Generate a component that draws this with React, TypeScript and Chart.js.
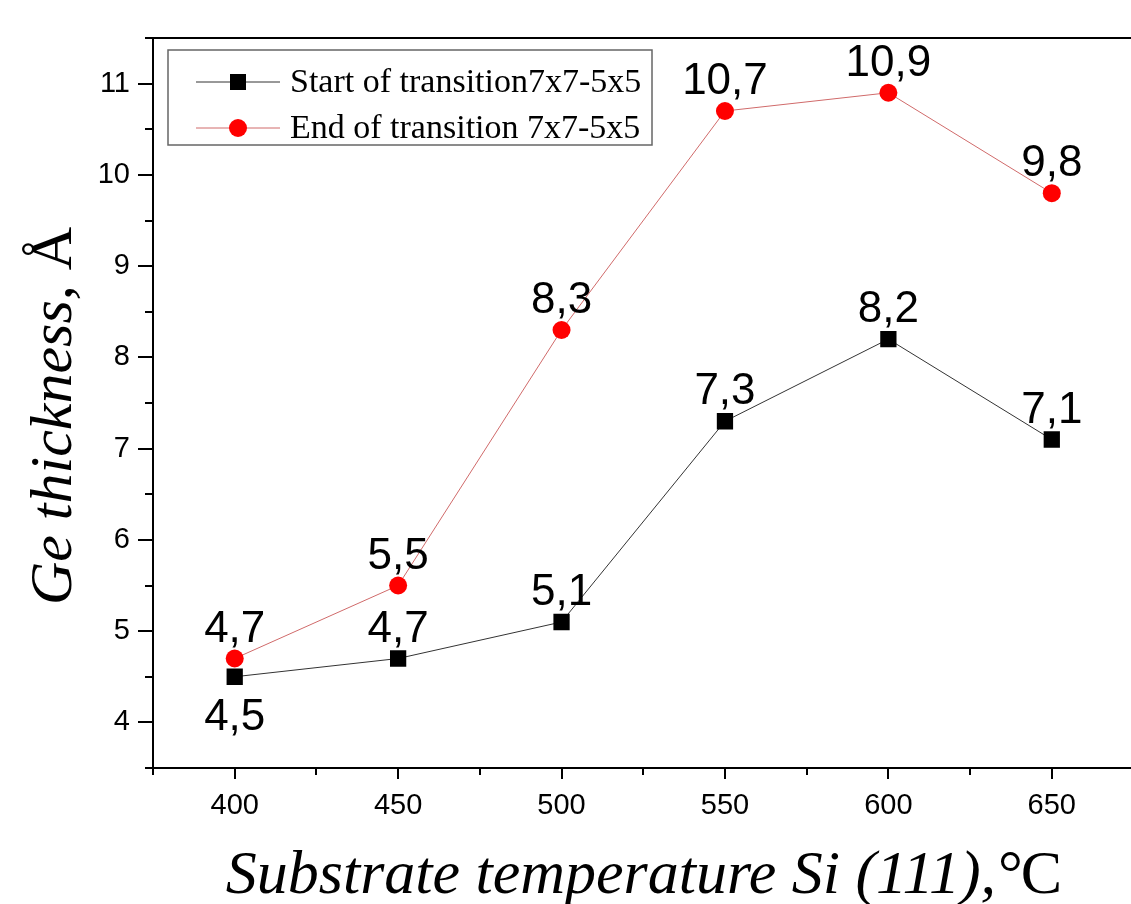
import React, { useEffect, useRef } from "react";
import { Chart, registerables } from "chart.js";

Chart.register(...registerables);

const temperatures = [400, 450, 500, 550, 600, 650];
const startValues = [4.5, 4.7, 5.1, 7.3, 8.2, 7.1];
const endValues = [4.7, 5.5, 8.3, 10.7, 10.9, 9.8];
const seriesNames = ["Start of transition7x7-5x5", "End of transition 7x7-5x5"];
const xTicks = [400, 450, 500, 550, 600, 650];
const yTicks = [4, 5, 6, 7, 8, 9, 10, 11];
const xTitle = "Substrate temperature Si (111),°";
const xTitleUnit = "C";
const yTitle = "Ge thickness, ";
const yTitleUnit = "Å";

const SANS = 'Arial, "Liberation Sans", sans-serif';
const SERIF = '"Times New Roman", "Liberation Serif", serif';

const fmt = (v: number) => Number(v).toFixed(1).replace(".", ",");

const decorPlugin = {
  id: "decor",
  afterDraw(chart: any) {
    const ctx = chart.ctx;
    const xs = chart.scales.x;
    const ys = chart.scales.y;
    const area = chart.chartArea;
    ctx.save();
    // top border
    ctx.strokeStyle = "#000";
    ctx.lineWidth = 2;
    ctx.beginPath();
    ctx.moveTo(area.left - 1, area.top);
    ctx.lineTo(area.right + 20, area.top);
    ctx.stroke();
    // y ticks
    for (let v = ys.min; v <= ys.max + 1e-9; v += 0.5) {
      const y = Math.round(ys.getPixelForValue(v));
      const major = Math.abs(v - Math.round(v)) < 1e-6;
      ctx.beginPath();
      ctx.moveTo(area.left, y);
      ctx.lineTo(area.left - (major ? 15 : 8), y);
      ctx.stroke();
    }
    // x ticks
    for (let v = xs.min; v <= xs.max + 1e-9; v += 25) {
      const x = Math.round(xs.getPixelForValue(v));
      const major = v % 50 === 0;
      ctx.beginPath();
      ctx.moveTo(x, area.bottom);
      ctx.lineTo(x, area.bottom + (major ? 11 : 7));
      ctx.stroke();
    }
    // data labels
    ctx.fillStyle = "#000";
    ctx.font = `44px ${SANS}`;
    ctx.textAlign = "center";
    ctx.textBaseline = "alphabetic";
    const series = [startValues, endValues];
    chart.data.datasets.forEach((ds: any, di: number) => {
      const meta = chart.getDatasetMeta(di);
      meta.data.forEach((pt: any, i: number) => {
        const below = di === 0 && i === 0;
        const txt = fmt(series[di][i]);
        ctx.fillText(txt, pt.x, below ? pt.y + 53 : pt.y - 17);
      });
    });
    // axis titles
    ctx.fillStyle = "#000";
    ctx.textBaseline = "alphabetic";
    ctx.font = `italic 62px ${SERIF}`;
    const w1 = ctx.measureText(xTitle).width;
    ctx.font = `62px ${SERIF}`;
    const w2 = ctx.measureText(xTitleUnit).width;
    const cx = 644;
    const startX = cx - (w1 + w2) / 2;
    ctx.textAlign = "left";
    ctx.font = `italic 62px ${SERIF}`;
    ctx.fillText(xTitle, startX, 893);
    ctx.font = `62px ${SERIF}`;
    ctx.fillText(xTitleUnit, startX + w1, 893);

    ctx.save();
    ctx.translate(71, 416);
    ctx.rotate(-Math.PI / 2);
    ctx.font = `italic 60px ${SERIF}`;
    const v1 = ctx.measureText(yTitle).width;
    ctx.font = `60px ${SERIF}`;
    const v2 = ctx.measureText(yTitleUnit).width;
    const sy = -(v1 + v2) / 2;
    ctx.font = `italic 60px ${SERIF}`;
    ctx.fillText(yTitle, sy, 0);
    ctx.font = `60px ${SERIF}`;
    ctx.fillText(yTitleUnit, sy + v1, 0);
    ctx.restore();

    // legend
    const lx = 168, ly = 50, lw = 484, lh = 95;
    ctx.strokeStyle = "#666";
    ctx.lineWidth = 1.5;
    ctx.strokeRect(lx, ly, lw, lh);
    const rows = [82, 128];
    chart.data.datasets.forEach((ds: any, di: number) => {
      const y = rows[di];
      ctx.strokeStyle = ds.borderColor;
      ctx.lineWidth = 1;
      ctx.beginPath();
      ctx.moveTo(196, y);
      ctx.lineTo(280, y);
      ctx.stroke();
      ctx.fillStyle = ds.pointBackgroundColor;
      if (ds.pointStyle === "rect") {
        ctx.fillRect(238 - 8, y - 8, 16, 16);
      } else {
        ctx.beginPath();
        ctx.arc(238, y, 9, 0, Math.PI * 2);
        ctx.fill();
      }
      ctx.fillStyle = "#000";
      ctx.font = `34px ${SERIF}`;
      ctx.textAlign = "left";
      ctx.textBaseline = "middle";
      ctx.fillText(ds.label, 290, y + 1);
    });
    ctx.restore();
  },
};

export default function App() {
  const ref = useRef<HTMLCanvasElement | null>(null);
  useEffect(() => {
    if (!ref.current) return;
    const chart = new Chart(ref.current, {
      type: "scatter",
      data: {
        datasets: [
          {
            label: seriesNames[0],
            data: temperatures.map((t, i) => ({ x: t, y: startValues[i] })) as any,
            showLine: true,
            borderColor: "#333333",
            borderWidth: 1,
            pointStyle: "rect",
            pointRadius: 11.5,
            pointBackgroundColor: "#000000",
            pointBorderColor: "#000000",
            pointBorderWidth: 0,
          } as any,
          {
            label: seriesNames[1],
            data: temperatures.map((t, i) => ({ x: t, y: endValues[i] })) as any,
            showLine: true,
            borderColor: "#d06a6a",
            borderWidth: 1,
            pointStyle: "circle",
            pointRadius: 9,
            pointBackgroundColor: "#ff0000",
            pointBorderColor: "#ff0000",
            pointBorderWidth: 0,
          } as any,
        ],
      },
      options: {
        animation: false,
        responsive: false,
        devicePixelRatio: 1,
        layout: { padding: { left: 0, top: 38, right: 6, bottom: 0 } },
        plugins: { legend: { display: false }, tooltip: { enabled: false } },
        scales: {
          x: {
            type: "linear",
            min: 375,
            max: 675,
            afterFit: (s: any) => { s.height = 136; s.paddingLeft = 0; s.paddingRight = 0; },
            afterBuildTicks: (s: any) => { s.ticks = xTicks.map((v) => ({ value: v })); },
            grid: { display: false, drawTicks: false },
            border: { display: true, color: "#000", width: 2 },
            ticks: { color: "#000", font: { family: SANS, size: 29 }, padding: 21, callback: (v: any) => String(v) },
          },
          y: {
            type: "linear",
            min: 3.5,
            max: 11.5,
            afterFit: (s: any) => { s.width = 153; s.paddingTop = 0; s.paddingBottom = 0; },
            afterBuildTicks: (s: any) => { s.ticks = yTicks.map((v) => ({ value: v })); },
            grid: { display: false, drawTicks: false },
            border: { display: true, color: "#000", width: 2 },
            ticks: { color: "#000", font: { family: SANS, size: 29 }, padding: 23, callback: (v: any) => String(v) },
          },
        },
      },
      plugins: [decorPlugin],
    });
    return () => chart.destroy();
  }, []);
  return (
    <div style={{ position: "absolute", left: 0, top: 0, width: 1131, height: 904, overflow: "hidden", background: "#fff" }}>
      <canvas ref={ref} width={1145} height={904} style={{ display: "block" }} />
    </div>
  );
}
